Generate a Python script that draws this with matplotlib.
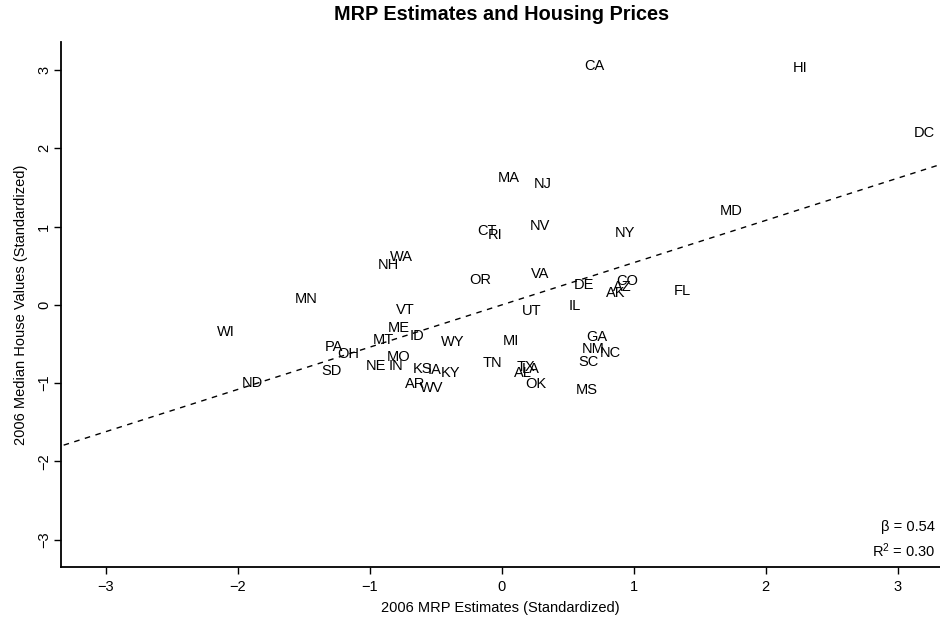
import numpy as np
import matplotlib.pyplot as plt

plt.rcParams['font.family'] = ['Liberation Sans', 'DejaVu Sans']

# state abbreviations and (MRP estimate, median house value), both standardized
states = ['WI', 'ND', 'MN', 'PA', 'OH', 'SD', 'NH', 'WA', 'VT', 'ME',
          'MT', 'ID', 'MO', 'NE', 'IN', 'KS', 'IA', 'KY', 'AR', 'WV',
          'WY', 'OR', 'CT', 'RI', 'MA', 'NJ', 'NV', 'VA', 'UT', 'MI',
          'TN', 'TX', 'LA', 'AL', 'OK', 'IL', 'DE', 'CA', 'GA', 'NM',
          'NC', 'SC', 'MS', 'AK', 'AZ', 'CO', 'NY', 'FL', 'MD', 'HI', 'DC']
mrp = [-2.09, -1.89, -1.48, -1.27, -1.16, -1.29, -0.86, -0.76, -0.73, -0.78,
       -0.90, -0.64, -0.78, -0.95, -0.80, -0.60, -0.51, -0.39, -0.66, -0.53,
       -0.37, -0.16, -0.11, -0.05, 0.05, 0.31, 0.29, 0.29, 0.23, 0.07,
       -0.07, 0.18, 0.22, 0.16, 0.26, 0.55, 0.62, 0.70, 0.72, 0.69,
       0.82, 0.66, 0.64, 0.86, 0.91, 0.95, 0.93, 1.37, 1.74, 2.26, 3.20]
house = [-0.35, -1.00, 0.08, -0.54, -0.63, -0.85, 0.51, 0.61, -0.07, -0.30,
         -0.45, -0.40, -0.66, -0.78, -0.78, -0.82, -0.83, -0.87, -1.01, -1.06,
         -0.47, 0.32, 0.94, 0.89, 1.62, 1.55, 1.01, 0.39, -0.08, -0.46,
         -0.74, -0.80, -0.82, -0.87, -1.01, -0.01, 0.26, 3.05, -0.41, -0.57,
         -0.61, -0.73, -1.09, 0.15, 0.23, 0.31, 0.92, 0.18, 1.20, 3.03, 2.20]
beta = 0.54
r2 = 0.30

fig = plt.figure(figsize=(9.4, 6.25), dpi=100)
ax = fig.add_axes([61 / 940, 58 / 625, 879 / 940, 525 / 625])

for s, x, y in zip(states, mrp, house):
    ax.text(x, y, s, ha='center', va='center', fontsize=10.5)

xs = np.array([-3.4, 3.4])
ax.plot(xs, beta * xs, 'k--', linewidth=1, dashes=(4, 4))

ax.set_xlim(-3.34, 3.32)
ax.set_ylim(-3.35, 3.36)
ax.set_xticks([-3, -2, -1, 0, 1, 2, 3])
ax.set_yticks([-3, -2, -1, 0, 1, 2, 3])
ax.set_xticklabels(['\u22123', '\u22122', '\u22121', '0', '1', '2', '3'])
ax.set_yticklabels(['\u22123', '\u22122', '\u22121', '0', '1', '2', '3'],
                   rotation=90, va='center')
ax.tick_params(length=5, width=1, labelsize=10.5)
ax.tick_params(axis='x', pad=4.5)
ax.tick_params(axis='y', pad=2)
ax.spines['top'].set_visible(False)
ax.spines['right'].set_visible(False)
ax.spines['left'].set_linewidth(1.3)
ax.spines['bottom'].set_linewidth(1.3)

ax.set_xlabel('2006 MRP Estimates (Standardized)', fontsize=10.5, labelpad=5)
ax.set_ylabel('2006 Median House Values (Standardized)', fontsize=10.5, labelpad=7)
fig.text(502 / 940, 1 - 15 / 625, 'MRP Estimates and Housing Prices',
         ha='center', va='center', fontsize=14.3, fontweight='bold')

fig.text(935 / 940, 1 - 527 / 625, '\u03b2 = %.2f' % beta,
         ha='right', va='center', fontsize=10.5)
fig.text(935 / 940, 1 - 551 / 625, '$\\mathregular{R^2}$ = %.2f' % r2,
         ha='right', va='center', fontsize=10.5)

fig.savefig('out.png')
